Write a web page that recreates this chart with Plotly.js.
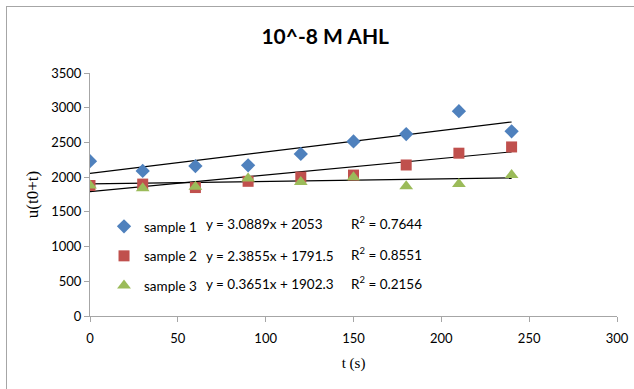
<!DOCTYPE html>
<html>
<head>
<meta charset="utf-8">
<script src="https://cdn.plot.ly/plotly-3.0.1.min.js"></script>
<style>
html,body{margin:0;padding:0;background:#fff;}
#wrap{position:relative;width:634px;height:389px;overflow:hidden;}
#chart{width:634px;height:389px;}
#frame{position:absolute;left:6px;top:6px;width:700px;height:500px;border-left:1.5px solid #a6a6a6;border-top:1.5px solid #a6a6a6;pointer-events:none;}
</style>
</head>
<body>
<div id="wrap"><div id="chart"></div><div id="frame"></div></div>
<script>
// Data
var times = [0, 30, 60, 90, 120, 150, 180, 210, 240];
var sample1 = [2230, 2090, 2160, 2170, 2335, 2515, 2620, 2950, 2660];
var sample2 = [1880, 1900, 1850, 1940, 2000, 2030, 2175, 2345, 2435];
var sample3 = [1880, 1840, 1860, 1980, 1930, 2000, 1870, 1900, 2030];
var seriesNames = ["sample 1", "sample 2", "sample 3"];
var slopes = [3.0889, 2.3855, 0.3651];
var intercepts = [2053, 1791.5, 1902.3];
var equationLabels = ["y = 3.0889x + 2053", "y = 2.3855x + 1791.5", "y = 0.3651x + 1902.3"];
var r2Labels = ["R<sup>2</sup> = 0.7644", "R<sup>2</sup> = 0.8551", "R<sup>2</sup> = 0.2156"];
var xTicks = [0, 50, 100, 150, 200, 250, 300];
var yTicks = [0, 500, 1000, 1500, 2000, 2500, 3000, 3500];

var allSeries = [sample1, sample2, sample3];
var colors = ["#4F81BD", "#C0504D", "#9BBB59"];
var symbols = ["diamond", "square", "triangle-up"];
var sizes = [11, 11, 12];

var traces = [];
var tMin = times[0], tMax = times[times.length - 1];
for (var i = 0; i < 3; i++) {
  traces.push({
    x: [tMin, tMax],
    y: [slopes[i] * tMin + intercepts[i], slopes[i] * tMax + intercepts[i]],
    mode: "lines",
    line: {color: "#000000", width: 1.2},
    showlegend: false,
    hoverinfo: "skip"
  });
}
for (var j = 0; j < 3; j++) {
  traces.push({
    x: times,
    y: allSeries[j],
    name: seriesNames[j],
    mode: "markers",
    legendgroup: "g" + j,
    marker: {symbol: symbols[j], size: sizes[j], color: colors[j]}
  });
}

var annFont = {family: "Lato, 'Open Sans', sans-serif", size: 13.5, color: "#000"};
var eqRowY = [1322, 865, 457];
var r2RowY = [1346, 889, 481];
var annotations = [];
for (var k = 0; k < 3; k++) {
  annotations.push({x: 64.8, y: eqRowY[k], xref: "x", yref: "y", text: equationLabels[k],
    showarrow: false, xanchor: "left", yanchor: "middle", align: "left", font: annFont});
  annotations.push({x: 147.3, y: r2RowY[k], xref: "x", yref: "y", text: r2Labels[k],
    showarrow: false, xanchor: "left", yanchor: "middle", align: "left", font: annFont});
}

var axisFont = {family: "Lato, 'Open Sans', sans-serif", size: 13, color: "#000"};
var layout = {
  width: 634, height: 389,
  margin: {l: 90, r: 17, t: 73, b: 73},
  paper_bgcolor: "#fff", plot_bgcolor: "#fff",
  title: {text: "<b>10^-8 M AHL</b>", x: 0.513, xanchor: "center", y: 0.905, yanchor: "middle",
    font: {family: "Lato, 'Open Sans', sans-serif", size: 21, color: "#000"}},
  xaxis: {range: [0, 300], tickvals: xTicks, ticks: "outside", ticklen: 5, tickcolor: "#a6a6a6",
    showline: true, linecolor: "#a6a6a6", linewidth: 1, showgrid: false, zeroline: false,
    tickfont: axisFont, ticklabelstandoff: 5,
    title: {text: "t (s)", standoff: 12, font: {family: "'Liberation Serif', serif", size: 15, color: "#000"}}},
  yaxis: {range: [0, 3500], tickvals: yTicks, ticks: "outside", ticklen: 5, tickcolor: "#a6a6a6",
    showline: true, linecolor: "#a6a6a6", linewidth: 1, showgrid: false, zeroline: false,
    tickfont: axisFont,
    title: {text: "u(t0+t)", standoff: 8, font: {family: "'Liberation Serif', serif", size: 17, color: "#000"}}},
  legend: {x: 0.0266, y: 0.432, xanchor: "left", yanchor: "top", bgcolor: "rgba(0,0,0,0)",
    font: {family: "Lato, 'Open Sans', sans-serif", size: 13.5, color: "#000"}, tracegroupgap: 9},
  annotations: annotations,
  showlegend: true
};

Plotly.newPlot("chart", traces, layout, {displayModeBar: false, staticPlot: true});
</script>
</body>
</html>
